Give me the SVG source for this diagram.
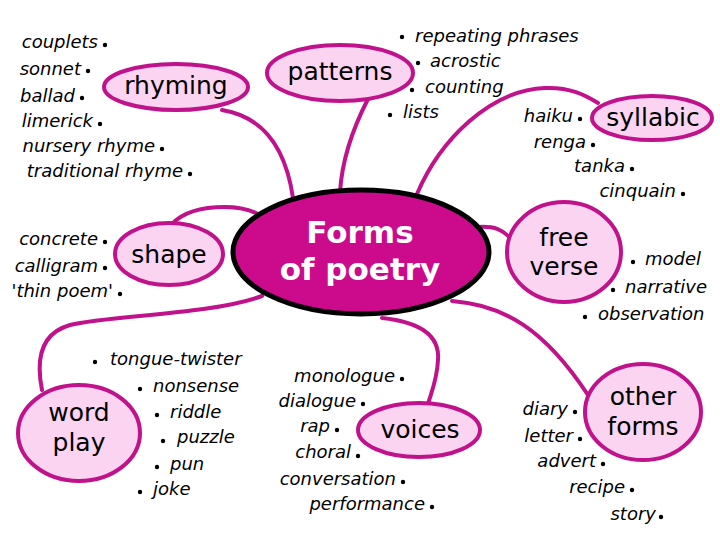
<svg xmlns="http://www.w3.org/2000/svg" width="720" height="540" viewBox="0 0 720 540">
<style>
.bg{fill:#ffffff}
.con{fill:none;stroke:#c0138b;stroke-width:4;stroke-linecap:round}
.node{fill:#fad4f0;stroke:#c0138b;stroke-width:4}
.center{fill:#cc0a8c;stroke:#000;stroke-width:5}
.lbl{font-family:"DejaVu Sans",sans-serif;font-size:25px;fill:#000;text-anchor:middle}
.clbl{font-family:"DejaVu Sans",sans-serif;font-size:31px;font-weight:bold;fill:#fff;text-anchor:middle}
.it{font-family:"DejaVu Sans",sans-serif;font-size:18px;font-style:italic;fill:#000}
.e{text-anchor:end}
.dot{fill:#000}
</style>
<rect class="bg" x="0" y="0" width="720" height="540"/>
<g id="connectors">
<path class="con" d="M222,110 C265,117 286,150 293,198"/>
<path class="con" d="M368,99 C352,130 342,160 340,192"/>
<path class="con" d="M417,194 C440,140 490,90 545,88 C570,87 585,95 598,103"/>
<path class="con" d="M478,227 C495,226 503,230 510,238"/>
<path class="con" d="M452,301 C505,305 545,330 588,395"/>
<path class="con" d="M382,318 C420,322 440,335 438,360 C437,380 432,390 428,404"/>
<path class="con" d="M262,296 C210,315 110,315 70,325 C35,335 38,370 42,390"/>
<path class="con" d="M172,224 C185,210 205,207 225,207 C240,207 250,210 258,214"/>
</g>
<g id="center">
<ellipse class="center" cx="361" cy="252" rx="128" ry="62"/>
<text class="clbl" x="360" y="243">Forms</text>
<text class="clbl" x="360" y="280">of poetry</text>
</g>
<g id="rhyming">
<ellipse class="node" cx="176" cy="87" rx="72" ry="23"/>
<text class="lbl" x="176" y="94">rhyming</text>
<text class="it e" x="98" y="48">couplets</text><circle class="dot" cx="105" cy="45" r="2.2"/>
<text class="it e" x="81" y="75">sonnet</text><circle class="dot" cx="88" cy="71" r="2.2"/>
<text class="it e" x="75" y="102">ballad</text><circle class="dot" cx="82" cy="98" r="2.2"/>
<text class="it e" x="93" y="127">limerick</text><circle class="dot" cx="100" cy="124" r="2.2"/>
<text class="it e" x="155" y="152">nursery rhyme</text><circle class="dot" cx="162" cy="149" r="2.2"/>
<text class="it e" x="183" y="177">traditional rhyme</text><circle class="dot" cx="190" cy="174" r="2.2"/>
</g>
<g id="patterns">
<ellipse class="node" cx="340" cy="73" rx="73" ry="28"/>
<text class="lbl" x="340" y="80">patterns</text>
<circle class="dot" cx="402" cy="37" r="2.2"/><text class="it" x="415" y="42">repeating phrases</text>
<circle class="dot" cx="418" cy="63" r="2.2"/><text class="it" x="430" y="67">acrostic</text>
<circle class="dot" cx="412" cy="90" r="2.2"/><text class="it" x="425" y="93">counting</text>
<circle class="dot" cx="390" cy="115" r="2.2"/><text class="it" x="403" y="118">lists</text>
</g>
<g id="syllabic">
<ellipse class="node" cx="652" cy="118" rx="60" ry="22"/>
<text class="lbl" x="653" y="126">syllabic</text>
<text class="it e" x="573" y="122">haiku</text><circle class="dot" cx="580" cy="119" r="2.2"/>
<text class="it e" x="586" y="148">renga</text><circle class="dot" cx="593" cy="145" r="2.2"/>
<text class="it e" x="625" y="172">tanka</text><circle class="dot" cx="632" cy="169" r="2.2"/>
<text class="it e" x="676" y="197">cinquain</text><circle class="dot" cx="683" cy="194" r="2.2"/>
</g>
<g id="shape">
<ellipse class="node" cx="169" cy="254" rx="54" ry="31"/>
<text class="lbl" x="169" y="263">shape</text>
<text class="it e" x="98" y="245">concrete</text><circle class="dot" cx="105" cy="242" r="2.2"/>
<text class="it e" x="98" y="272">calligram</text><circle class="dot" cx="105" cy="268" r="2.2"/>
<text class="it e" x="113" y="297">'thin poem'</text><circle class="dot" cx="120" cy="294" r="2.2"/>
</g>
<g id="free-verse">
<ellipse class="node" cx="564" cy="252" rx="57" ry="50"/>
<text class="lbl" x="564" y="246">free</text>
<text class="lbl" x="564" y="275">verse</text>
<circle class="dot" cx="633" cy="262" r="2.2"/><text class="it" x="645" y="265">model</text>
<circle class="dot" cx="613" cy="290" r="2.2"/><text class="it" x="625" y="293">narrative</text>
<circle class="dot" cx="585" cy="317" r="2.2"/><text class="it" x="598" y="320">observation</text>
</g>
<g id="word-play">
<ellipse class="node" cx="79" cy="433" rx="61" ry="48"/>
<text class="lbl" x="79" y="421">word</text>
<text class="lbl" x="79" y="451">play</text>
<circle class="dot" cx="95" cy="362" r="2.2"/><text class="it" x="110" y="365">tongue-twister</text>
<circle class="dot" cx="140" cy="389" r="2.2"/><text class="it" x="153" y="392">nonsense</text>
<circle class="dot" cx="157" cy="415" r="2.2"/><text class="it" x="170" y="418">riddle</text>
<circle class="dot" cx="163" cy="441" r="2.2"/><text class="it" x="177" y="443">puzzle</text>
<circle class="dot" cx="157" cy="467" r="2.2"/><text class="it" x="170" y="470">pun</text>
<circle class="dot" cx="140" cy="492" r="2.2"/><text class="it" x="153" y="495">joke</text>
</g>
<g id="voices">
<ellipse class="node" cx="419" cy="430" rx="61" ry="27"/>
<text class="lbl" x="420" y="438">voices</text>
<text class="it e" x="395" y="382">monologue</text><circle class="dot" cx="402" cy="379" r="2.2"/>
<text class="it e" x="356" y="407">dialogue</text><circle class="dot" cx="363" cy="404" r="2.2"/>
<text class="it e" x="330" y="432">rap</text><circle class="dot" cx="337" cy="430" r="2.2"/>
<text class="it e" x="351" y="458">choral</text><circle class="dot" cx="358" cy="456" r="2.2"/>
<text class="it e" x="396" y="485">conversation</text><circle class="dot" cx="403" cy="482" r="2.2"/>
<text class="it e" x="425" y="510">performance</text><circle class="dot" cx="432" cy="507" r="2.2"/>
</g>
<g id="other-forms">
<ellipse class="node" cx="643" cy="412" rx="58" ry="48"/>
<text class="lbl" x="643" y="405">other</text>
<text class="lbl" x="643" y="435">forms</text>
<text class="it e" x="568" y="415">diary</text><circle class="dot" cx="575" cy="412" r="2.2"/>
<text class="it e" x="573" y="442">letter</text><circle class="dot" cx="580" cy="439" r="2.2"/>
<text class="it e" x="596" y="467">advert</text><circle class="dot" cx="603" cy="464" r="2.2"/>
<text class="it e" x="625" y="493">recipe</text><circle class="dot" cx="632" cy="490" r="2.2"/>
<text class="it e" x="656" y="520">story</text><circle class="dot" cx="661" cy="517" r="2.2"/>
</g>
</svg>
